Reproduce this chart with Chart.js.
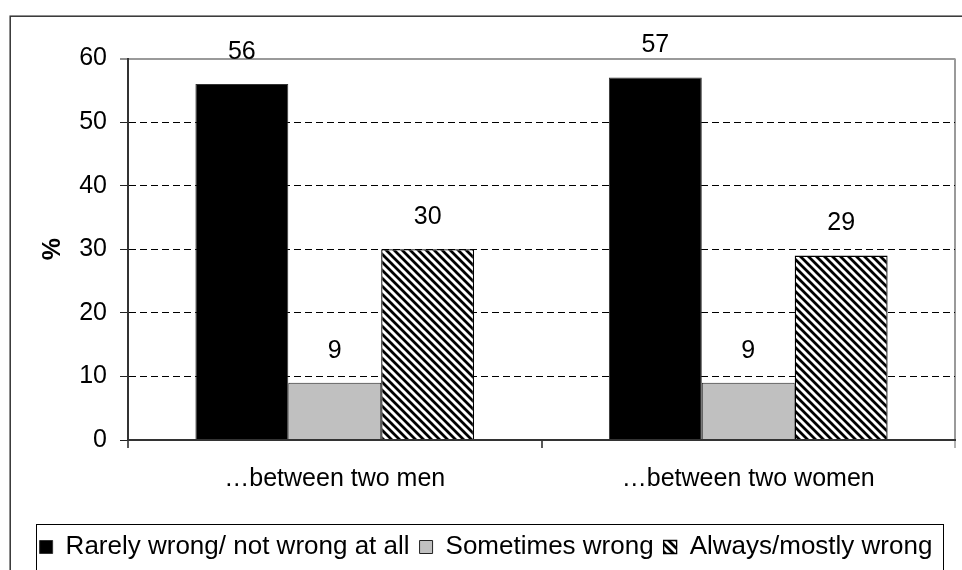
<!DOCTYPE html>
<html>
<head>
<meta charset="utf-8">
<title>Attitudes towards same-sex relations</title>
<script src="https://cdn.jsdelivr.net/npm/chart.js@4"></script>
<style>
  html, body { margin: 0; padding: 0; background: #fff; overflow: hidden; }
  #c { display: block; }
</style>
</head>
<body>
<canvas id="c" width="962" height="570" style="width:962px;height:570px"></canvas>
<script>
// ---- data ----
const categories = ['\u2026between two men', '\u2026between two women'];
const seriesNames = ['Rarely wrong/ not wrong at all', 'Sometimes wrong', 'Always/mostly wrong'];
const rarelyWrong = [56, 57];
const sometimesWrong = [9, 9];
const alwaysWrong = [30, 29];
const yTicks = [0, 10, 20, 30, 40, 50, 60];
const yTitle = '%';

// ---- styling ----
const FONT = "'Liberation Sans', Arial, Helvetica, sans-serif";
const FS = 25;
Chart.defaults.font.family = FONT;
Chart.defaults.font.size = FS;
Chart.defaults.color = '#000';

// diagonal "\" hatch fill for the third series
function makeHatch() {
  const s = 8;
  const c = document.createElement('canvas');
  c.width = s; c.height = s;
  const g = c.getContext('2d');
  g.fillStyle = '#fff';
  g.fillRect(0, 0, s, s);
  g.strokeStyle = '#000';
  g.lineWidth = 2.8;
  g.lineCap = 'square';
  g.beginPath();
  for (let k = -1; k <= 1; k++) {
    g.moveTo(k * s - 2, -2);
    g.lineTo(k * s + s + 2, s + 2);
  }
  g.stroke();
  return g.createPattern(c, 'repeat');
}
const hatch = makeHatch();

const isTop = c => c.tick && c.tick.value === yTicks[yTicks.length - 1];

// outer frame behind everything
const framePlugin = {
  id: 'frame',
  beforeDraw(chart) {
    const ctx = chart.ctx;
    ctx.save();
    ctx.fillStyle = '#fff';
    ctx.fillRect(0, 0, chart.width, chart.height);
    ctx.strokeStyle = '#333';
    ctx.lineWidth = 1.5;
    ctx.strokeRect(10.2, 16.2, chart.width + 20, chart.height + 20);
    ctx.restore();
  }
};

// value labels above each bar
const valueLabels = {
  id: 'valueLabels',
  afterDatasetsDraw(chart) {
    const ctx = chart.ctx;
    ctx.save();
    ctx.font = FS + 'px ' + FONT;
    ctx.fillStyle = '#000';
    ctx.textAlign = 'center';
    ctx.textBaseline = 'middle';
    chart.data.datasets.forEach((ds, i) => {
      chart.getDatasetMeta(i).data.forEach((bar, j) => {
        ctx.fillText(String(ds.data[j]), bar.x, bar.y - 32);
      });
    });
    ctx.restore();
  }
};

// box drawn around the legend entries
const legendBox = {
  id: 'legendBox',
  afterDraw(chart) {
    const lg = chart.legend;
    if (!lg) return;
    const left = lg.left + 19;
    const right = lg.right - 12;
    const top = lg.top;
    const ctx = chart.ctx;
    ctx.save();
    ctx.strokeStyle = '#000';
    ctx.lineWidth = 1;
    ctx.strokeRect(Math.round(left) + 0.5, Math.round(top) + 0.5, Math.round(right - left), chart.height);
    ctx.restore();
  }
};

new Chart(document.getElementById('c'), {
  type: 'bar',
  data: {
    labels: categories,
    datasets: [
      { label: seriesNames[0], data: rarelyWrong, backgroundColor: '#000', borderColor: '#333', borderWidth: 1 },
      { label: seriesNames[1], data: sometimesWrong, backgroundColor: '#c0c0c0', borderColor: '#222', borderWidth: 1 },
      { label: seriesNames[2], data: alwaysWrong, backgroundColor: hatch, borderColor: '#000', borderWidth: 1.3 }
    ]
  },
  options: {
    responsive: false,
    animation: false,
    devicePixelRatio: 1,
    layout: { padding: { left: 17, right: 7, top: 58.5, bottom: 0 } },
    datasets: { bar: { barPercentage: 1, categoryPercentage: 0.674 } },
    plugins: {
      tooltip: { enabled: false },
      legend: {
        position: 'bottom',
        labels: { boxWidth: 13, boxHeight: 13, padding: 10, color: '#000', font: { size: 26 } }
      }
    },
    scales: {
      x: {
        offset: true,
        afterFit(s) { s.height = 84; },
        grid: {
          offset: true,
          drawOnChartArea: true,
          color: c => (c.type === 'tick' ? 'rgba(0,0,0,0)' : '#9a9a9a'),
          lineWidth: 2,
          tickColor: c => (c.type === 'tick' ? '#222' : '#9a9a9a'),
          tickLength: 8,
          tickWidth: 1.5
        },
        border: { display: true, color: '#333', width: 2, z: 1 },
        ticks: { padding: 16, color: '#000', font: { size: FS }, maxRotation: 0, autoSkip: false }
      },
      y: {
        min: yTicks[0],
        max: yTicks[yTicks.length - 1],
        afterBuildTicks(s) { s.ticks = yTicks.map(v => ({ value: v })); },
        afterFit(s) { s.width = 111; },
        grid: {
          color: c => (isTop(c) ? '#9a9a9a' : '#000'),
          lineWidth: c => (isTop(c) ? 2 : 1),
          tickColor: '#222',
          tickLength: 8,
          tickWidth: 1
        },
        border: { display: true, color: '#333', width: 2, z: 1, dash: c => (isTop(c) ? [] : [7, 4]) },
        ticks: { padding: 13, color: '#000', font: { size: FS } },
        title: { display: true, text: yTitle, color: '#000', font: { size: FS, weight: 'bold' }, padding: { top: 21, bottom: 0 } }
      }
    }
  },
  plugins: [framePlugin, valueLabels, legendBox]
});
</script>
</body>
</html>
